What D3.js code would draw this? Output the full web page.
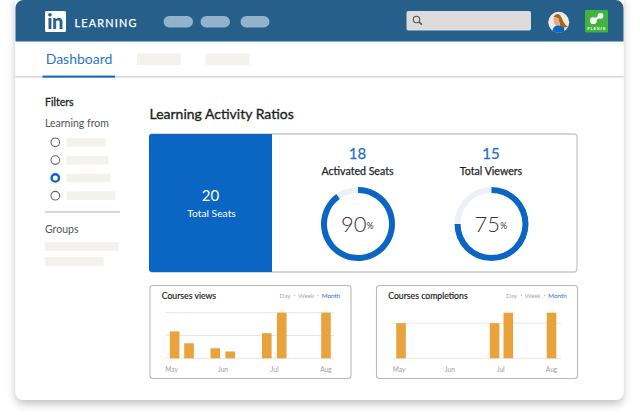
<!DOCTYPE html>
<html><head><meta charset="utf-8">
<style>html,body{margin:0;padding:0;background:#fff;overflow:hidden}svg{display:block}text{font-family:Lato,sans-serif}</style>
<script src="https://cdn.jsdelivr.net/npm/d3@7/dist/d3.min.js"></script></head>
<body><svg id="c" width="640" height="415"></svg>
<script>
// --- data ---
const tabLabel = "Dashboard";
const pageTitle = "Learning Activity Ratios";
const totalSeats = 20;
const donutNames = ["Activated Seats", "Total Viewers"];
const donutCounts = [18, 15];
const donutPercents = [90, 75];
const monthLabels = ["May", "Jun", "Jul", "Aug"];
const rangeLabels = ["Day", "Week", "Month"];
const viewsMonths = [0.07, 0.35, 0.86, 1.15, 1.86, 2.15, 3.01];
const viewsValues = [59, 33, 22, 15, 55, 100, 100];
const viewsGrid = [0, 50, 100];
const completionsMonths = [0.05, 1.89, 2.16, 3.01];
const completionsValues = [77, 77, 100, 100];
const completionsGrid = [0, 77];
const radioWidths = [39, 42, 44, 49];

const svg = d3.select("#c");
const BLUE = "#0a66c2", PALE = "#f3f2ef", INK = "#1f1f1f";
const txt = (x, y, s, size, fill, o = {}) => svg.append("text").attr("x", x).attr("y", y).text(s)
  .attr("font-size", size).attr("fill", fill).attr("text-anchor", o.anchor || "start")
  .attr("font-weight", o.weight || 400).attr("letter-spacing", o.ls || 0)
  .attr("stroke", o.stroke ? fill : "none").attr("stroke-width", o.stroke || 0);
const rect = (x, y, w, h, fill, r = 0) => svg.append("rect").attr("x", x).attr("y", y).attr("width", w).attr("height", h).attr("rx", r).attr("fill", fill);

const f = svg.append("defs").append("filter").attr("id", "sh").attr("x", "-5%").attr("y", "-5%").attr("width", "110%").attr("height", "112%");
f.append("feDropShadow").attr("dx", 0).attr("dy", 4).attr("stdDeviation", 4.5).attr("flood-color", "#000").attr("flood-opacity", 0.24);

// card
rect(15.5, -6, 608, 406, "#fff", 8).attr("filter", "url(#sh)");
// header
svg.append("path").attr("d", "M15.5 41.5V8a8 8 0 0 1 8-8H615.5a8 8 0 0 1 8 8V41.5Z").attr("fill", "#265f8a");
rect(45, 11, 21, 21, "#fff", 1.5);
txt(47.3, 28.5, "in", 20, "#265f8a", { weight: 900, ls: -0.4 });
txt(74.5, 26.5, "LEARNING", 10.8, "#fff", { ls: 1.25, weight: 400, stroke: 0.25 });
[[163.5, 29.5], [200.5, 29.5], [240.5, 29]].forEach(d => rect(d[0], 16, d[1], 11.5, "#93b2cc", 5.7));
// search
rect(406.5, 11, 124.5, 19.5, "#dcdcdc", 2);
svg.append("circle").attr("cx", 416.5).attr("cy", 19.5).attr("r", 3.2).attr("fill", "none").attr("stroke", "#555").attr("stroke-width", 1.1);
svg.append("line").attr("x1", 419).attr("y1", 22).attr("x2", 421.8).attr("y2", 24.6).attr("stroke", "#555").attr("stroke-width", 1.6);
// avatar
svg.append("circle").attr("cx", 558.7).attr("cy", 22.3).attr("r", 10.5).attr("fill", "#eceae7");
svg.append("path").attr("d", "M552.5 31 Q553 26 558 25 L563 26 Q565 28 564.5 31.5 Q558 34 552.5 31Z").attr("fill", BLUE);
svg.append("path").attr("d", "M553.5 17 Q556 12.5 560 15 Q562 18 563.5 22 Q566 26 568 26.5 Q564 28.5 560.5 26 Q559 22 558.5 18.5 L556 17.5Z").attr("fill", "#a8650f");
svg.append("path").attr("d", "M553.5 17.5 L558.5 18 L560 25.5 L556.5 25.5 L554 23Z").attr("fill", "#e8a98a");
// flexis
rect(585, 10, 23, 22.5, "#3fb53f", 1);
svg.append("line").attr("x1", 593.5).attr("y1", 20.5).attr("x2", 600.5).attr("y2", 16).attr("stroke", "#fff").attr("stroke-width", 2.4);
svg.append("circle").attr("cx", 600.5).attr("cy", 15.8).attr("r", 2.9).attr("fill", "#fff");
svg.append("circle").attr("cx", 593.3).attr("cy", 20.7).attr("r", 3.4).attr("fill", "#fff");
txt(596.5, 29.7, "FLEXIS", 4.4, "#fff", { anchor: "middle", weight: 700, ls: 0.8 });

// tabs
txt(45.7, 64, tabLabel, 14, "#2a76c6");
rect(137, 53.5, 44, 11.5, PALE);
rect(205.5, 53.5, 44, 11.5, PALE);
rect(15.5, 76, 608, 1.6, "#d9d9d9");
rect(42.5, 75.6, 72.5, 2, BLUE);

// sidebar
txt(45, 106, "Filters", 10.5, INK, { stroke: 0.3 });
txt(45, 127, "Learning from", 10.5, "#555");
radioWidths.forEach((w, i) => {
  const y = 142.3 + i * 17.8, on = i === 2;
  svg.append("circle").attr("cx", 55.3).attr("cy", y).attr("r", on ? 3.7 : 4.3).attr("fill", "#fff")
    .attr("stroke", on ? BLUE : "#666").attr("stroke-width", on ? 2.4 : 1.1);
  rect(66.5, y - 4.2, w, 8.6, PALE);
});
rect(45, 211, 75, 1.8, "#d5d5d5");
txt(45, 233, "Groups", 10.5, "#555");
rect(45, 242, 73.5, 9, PALE);
rect(45, 257, 58.5, 9, PALE);

// title
txt(149.5, 119, pageTitle, 14, INK, { stroke: 0.35 });

// main panel
rect(149.5, 134, 427.5, 138, "#fff", 3).attr("stroke", "#c8c8c8").attr("stroke-width", 1.3);
svg.append("path").attr("d", "M272 134V272H152a3 3 0 0 1-3-3V137a3 3 0 0 1 3-3Z").attr("fill", BLUE);
txt(210.5, 201, totalSeats, 15, "#fff", { anchor: "middle" });
txt(211.5, 216.5, "Total Seats", 10.3, "#fff", { anchor: "middle" });

// donuts
const ang = d3.scaleLinear().domain([0, 100]).range([0, 2 * Math.PI]);
const arc = d3.arc().innerRadius(31).outerRadius(37);
[358, 491.5].forEach((cx, i) => {
  const g = svg.append("g").attr("transform", `translate(${cx},224)`);
  g.append("path").attr("d", arc({ startAngle: 0, endAngle: 2 * Math.PI })).attr("fill", "#ebf1f7");
  g.append("path").attr("d", arc({ startAngle: ang(0), endAngle: ang(donutPercents[i]) })).attr("fill", BLUE);
  txt(cx - 0.5, 158.5, donutCounts[i], 15, "#1f6fc4", { anchor: "middle", stroke: 0.25 });
  txt(cx - 0.5, 175, donutNames[i], 10.6, INK, { anchor: "middle", stroke: 0.25 });
  txt(cx + 8.5, 231.5, donutPercents[i], 22, "#333", { anchor: "end", weight: 300 });
  txt(cx + 8.8, 228.5, "%", 8.5, "#333");
});

// small charts
function small(x0, width, title, months, values, grid, range, left, right) {
  rect(x0, 285.5, width, 93, "#fff", 3).attr("stroke", "#b9b9b9").attr("stroke-width", 1.1);
  txt(x0 + 11.7, 299, title, 8.7, INK, { stroke: 0.2 });
  const dx = x0 - 150;
  const g = svg.append("g").attr("transform", `translate(${dx},0)`);
  const centers = [285, 306.3, 331], dots = [294.7, 318];
  rangeLabels.forEach((r, i) => g.append("text").attr("x", centers[i]).attr("y", 297.5).attr("text-anchor", "middle")
    .attr("font-size", 6.3).attr("fill", i === 2 ? "#1f6fc4" : "#aaa").text(r));
  g.selectAll("circle").data(dots).join("circle").attr("cx", d => d).attr("cy", 295.3).attr("r", 0.6).attr("fill", "#aaa");
  const x = d3.scaleLinear().domain([0, 3]).range(range);
  const y = d3.scaleLinear().domain([0, 100]).range([358.3, 312.7]);
  const gg = svg.append("g");
  gg.selectAll("line").data(grid).join("line").attr("x1", left).attr("x2", right)
    .attr("y1", d => y(d)).attr("y2", d => y(d)).attr("stroke", "#e9e6e0").attr("stroke-width", 1);
  svg.append("g").selectAll("rect").data(values).join("rect")
    .attr("x", (d, i) => x(months[i]) - 4.8).attr("width", 9.6)
    .attr("y", d => y(d)).attr("height", d => y(0) - y(d)).attr("fill", "#e8a33d");
  const ax = d3.axisBottom(x).tickValues([0, 1, 2, 3]).tickFormat(i => monthLabels[i]).tickSize(0);
  const a = svg.append("g").attr("transform", "translate(0,367)").call(ax);
  a.select(".domain").remove();
  a.selectAll("text").attr("y", 3).attr("dy", "0.35em").attr("font-size", 6.6).attr("fill", "#a0a0a0").attr("font-family", "Lato,sans-serif");
}
small(150, 201, "Courses views", viewsMonths, viewsValues, viewsGrid, [171, 325.5], 166, 334);
small(376.5, 201, "Courses completions", completionsMonths, completionsValues, completionsGrid, [398.5, 551], 393, 561);
</script></body></html>
